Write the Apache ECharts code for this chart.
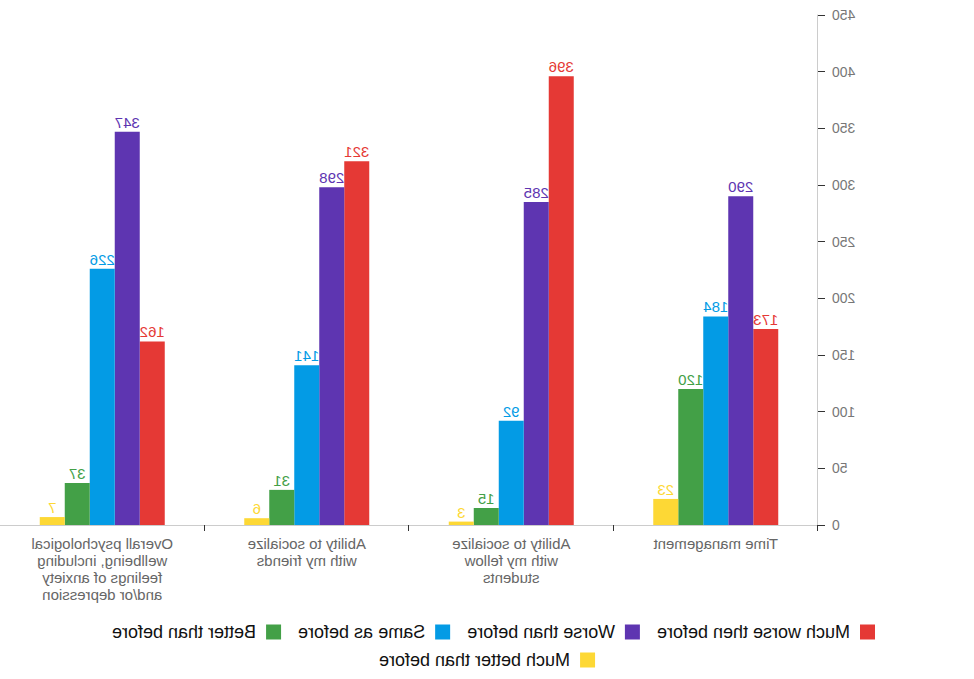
<!DOCTYPE html>
<html>
<head>
<meta charset="utf-8">
<script src="https://cdn.jsdelivr.net/npm/echarts@6/dist/echarts.min.js"></script>
<style>
html,body{margin:0;padding:0;background:#fff;}
#chart{width:974px;height:679px;transform:scaleX(-1);}
</style>
</head>
<body>
<div id="chart"></div>
<script>
const categories = [
  'Time management',
  'Ability to socialize\nwith my fellow\nstudents',
  'Ability to socialize\nwith my friends',
  'Overall psychological\nwellbeing, including\nfeelings of anxiety\nand/or depression'
];
const seriesNames = ['Much worse then before', 'Worse than before', 'Same as before', 'Better than before', 'Much better than before'];
const muchWorse = [173, 396, 321, 162];
const worse = [290, 285, 298, 347];
const same = [184, 92, 141, 226];
const better = [120, 15, 31, 37];
const muchBetter = [23, 3, 6, 7];
const yTicks = {min: 0, max: 450, interval: 50};

const colors = ['#E53935', '#5E35B1', '#039BE5', '#43A047', '#FDD835'];
const values = [muchWorse, worse, same, better, muchBetter];
const font = 'Liberation Sans, Arial, sans-serif';

const chart = echarts.init(document.getElementById('chart'), null, {renderer: 'svg'});
chart.setOption({
  animation: false,
  color: colors,
  textStyle: {fontFamily: font},
  grid: {left: 156, right: -6, top: 15, bottom: 154, containLabel: false},
  legend: [
    {
      data: seriesNames.slice(0, 4),
      left: 94, top: 618,
      icon: 'rect', itemWidth: 15, itemHeight: 15, itemGap: 17,
      textStyle: {fontSize: 18, color: '#111', fontFamily: font, padding: [0, 0, 0, 5]}
    },
    {
      data: seriesNames.slice(4),
      left: 'center', top: 646,
      icon: 'rect', itemWidth: 15, itemHeight: 15, itemGap: 17,
      textStyle: {fontSize: 18, color: '#111', fontFamily: font, padding: [0, 0, 0, 5]}
    }
  ],
  xAxis: {
    type: 'category',
    data: categories,
    axisLine: {show: true, lineStyle: {color: '#ccc'}},
    axisTick: {show: true, length: 6, lineStyle: {color: '#333'}},
    axisLabel: {color: '#666', fontSize: 15, lineHeight: 17, margin: 10, interval: 0, fontFamily: font}
  },
  yAxis: {
    type: 'value',
    min: yTicks.min, max: yTicks.max, interval: yTicks.interval,
    splitLine: {show: false},
    axisLine: {show: true, lineStyle: {color: '#ccc'}},
    axisTick: {show: true, length: 7, lineStyle: {color: '#333'}},
    axisLabel: {color: '#777', fontSize: 14, margin: 14, fontFamily: font}
  },
  series: seriesNames.map((name, i) => ({
    name: name,
    type: 'bar',
    data: values[i],
    barWidth: 25,
    barGap: '0%',
    label: {show: true, position: 'top', distance: 2, color: colors[i], fontSize: 15, fontFamily: font}
  }))
});
</script>
</body>
</html>
